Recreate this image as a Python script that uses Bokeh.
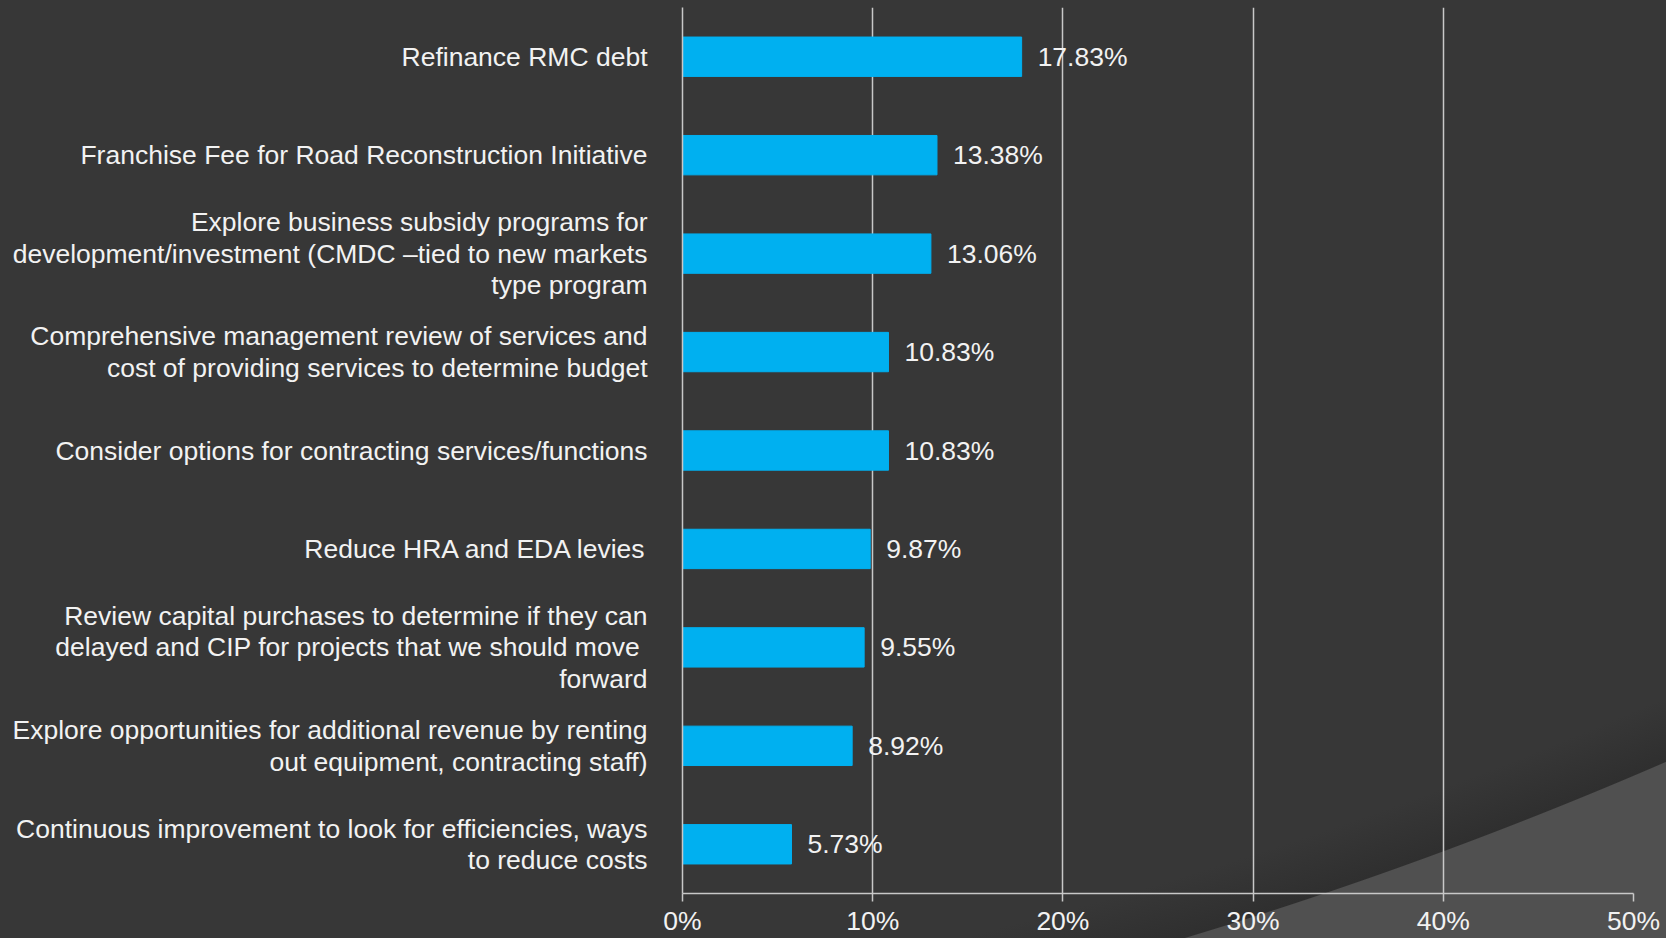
from bokeh.plotting import figure
from bokeh.models import (ColumnDataSource, FactorRange, NumeralTickFormatter,
                          FixedTicker, GlobalInlineStyleSheet)
from bokeh.core.properties import value
from bokeh.embed import file_html
from bokeh.resources import INLINE

categories = [
    "Refinance RMC debt",
    "Franchise Fee for Road Reconstruction Initiative",
    "Explore business subsidy programs for\ndevelopment/investment (CMDC \u2013tied to new markets\ntype program",
    "Comprehensive management review of services and\ncost of providing services to determine budget",
    "Consider options for contracting services/functions",
    "Reduce HRA and EDA levies",
    "Review capital purchases to determine if they can\ndelayed  and CIP for projects that we should move\nforward",
    "Explore opportunities for additional revenue by renting\nout equipment, contracting staff)",
    "Continuous improvement to look for efficiencies, ways\nto reduce costs",
]
shares = [0.1783, 0.1338, 0.1306, 0.1083, 0.1083, 0.0987, 0.0955, 0.0892, 0.0573]
value_labels = ["17.83%", "13.38%", "13.06%", "10.83%", "10.83%", "9.87%", "9.55%", "8.92%", "5.73%"]
x_ticks = [0.0, 0.1, 0.2, 0.3, 0.4, 0.5]

FONT = "Liberation Sans"
FSIZE = "26.5px"
TXT = "#f2f2f2"
GRID = "#c8c8c8"
BAR = "#00b0f0"

bg_css = """
html { background: radial-gradient(circle 4390px at -81px -3265px,
        #373737 0, #373737 calc(100% - 60px), #2f2f2f calc(100% - 1px), #505050 100%) no-repeat,
        #505050; min-height: 100%; }
body { background: transparent; }
"""

src = ColumnDataSource(dict(cat=categories, share=shares, label=value_labels))

p = figure(y_range=FactorRange(*reversed(categories)), x_range=(0, 0.5),
           width=1666, height=938, output_backend="svg", toolbar_location=None,
           min_border_left=682, min_border_right=33, min_border_top=7,
           min_border_bottom=0)
p.stylesheets = [GlobalInlineStyleSheet(css=bg_css)]
p.background_fill_alpha = 0
p.border_fill_alpha = 0
p.outline_line_color = None

p.hbar(y="cat", left=0, right="share", height=0.4, color=BAR, source=src)
p.text(x="share", y="cat", text="label", x_offset=16, text_baseline="middle",
       text_align="left", text_font=value(FONT), text_font_size=FSIZE,
       text_color=TXT, source=src)

p.xaxis.ticker = FixedTicker(ticks=x_ticks)
p.xaxis.formatter = NumeralTickFormatter(format="0%")
p.xaxis.axis_line_color = GRID
p.xaxis.axis_line_width = 1.5
p.xaxis.major_tick_line_color = GRID
p.xaxis.major_tick_line_width = 1.5
p.xaxis.major_tick_out = 8
p.xaxis.major_tick_in = 0
p.xaxis.minor_tick_line_color = None
p.xaxis.major_label_standoff = 4
p.xaxis.major_label_text_font = FONT
p.xaxis.major_label_text_font_size = FSIZE
p.xaxis.major_label_text_color = TXT

p.yaxis.axis_line_color = GRID
p.yaxis.axis_line_width = 1.5
p.yaxis.major_tick_line_color = None
p.yaxis.major_tick_out = 0
p.yaxis.major_tick_in = 0
p.yaxis.minor_tick_line_color = None
p.yaxis.major_label_standoff = 35
p.yaxis.major_label_text_font = FONT
p.yaxis.major_label_text_font_size = FSIZE
p.yaxis.major_label_text_color = TXT
p.yaxis.major_label_text_line_height = 1.05

p.xgrid.ticker = FixedTicker(ticks=x_ticks)
p.xgrid.grid_line_color = GRID
p.xgrid.grid_line_width = 1.5
p.ygrid.grid_line_color = None

open("out.html", "w").write(file_html(p, INLINE))
